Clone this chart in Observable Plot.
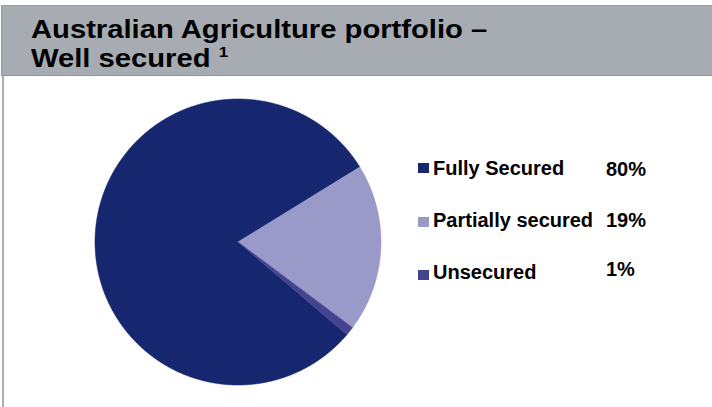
<!DOCTYPE html>
<html>
<head>
<meta charset="utf-8">
<script src="https://cdn.jsdelivr.net/npm/d3@7"></script>
<script src="https://cdn.jsdelivr.net/npm/@observablehq/plot@0.6"></script>
<style>
  html, body { margin: 0; padding: 0; background: #fff; }
  body { width: 712px; height: 407px; overflow: hidden; font-family: "Liberation Sans", Arial, sans-serif; }
  #wrap { position: relative; width: 712px; height: 407px; }
  #head { position: absolute; left: 1px; top: 5px; width: 711px; height: 71px; background: #a6acb1;
          border-top: 1px solid #959ba1; border-bottom: 1px solid #8f959b; border-left: 1px solid #8f959b; box-sizing: border-box; }
  .tl { position: absolute; left: 31px; font-size: 29.2px; font-weight: bold; color: #000; line-height: 28px;
        white-space: nowrap; transform: scaleY(0.87); transform-origin: 0 0; }
  .tl sup { font-size: 17px; vertical-align: 0; position: relative; top: -11px; }
  #vline { position: absolute; left: 2px; top: 76px; width: 2px; height: 331px; background: #a9afb4; }
  #chart { position: absolute; left: 0; top: 76px; }
  .lg { position: absolute; font-size: 20px; font-weight: bold; color: #000; line-height: 20px; white-space: nowrap; }
  .sw { position: absolute; width: 11px; height: 10px; }
</style>
</head>
<body>
<div id="wrap">
  <div id="head"></div>
  <div class="tl" id="t1" style="top:17px">Australian Agriculture portfolio –</div>
  <div class="tl" id="t2" style="top:46px">Well secured <sup>1</sup></div>
  <div id="chart"></div>
  <div id="vline"></div>
  <div id="legend"></div>
</div>
<script>
// Data
const categories = ["Fully Secured", "Partially secured", "Unsecured"];
const values = [80, 19, 1];
const valueLabels = ["80%", "19%", "1%"];
const colors = ["#162770", "#9a9ac8", "#434390"];

// Pie layout (first slice starts at ~130° clockwise from 12 o'clock)
const start = 130.4 * Math.PI / 180;
const arcs = d3.pie().sort(null).startAngle(start).endAngle(start + 2 * Math.PI)(values);
const points = [];
arcs.forEach((a, i) => {
  const name = categories[i];
  points.push({x: 0, y: 0, name});
  const n = Math.max(2, Math.ceil((a.endAngle - a.startAngle) / (0.25 * Math.PI / 180)));
  for (let k = 0; k <= n; k++) {
    const t = a.startAngle + (a.endAngle - a.startAngle) * k / n;
    points.push({x: Math.sin(t), y: Math.cos(t), name});
  }
  points.push({x: 0, y: 0, name});
});

const cx = 237.5, cy = 165.5, r = 143;
const chart = Plot.plot({
  width: 712,
  height: 331,
  margin: 0,
  x: {domain: [-1, 1], range: [cx - r, cx + r], axis: null},
  y: {domain: [-1, 1], range: [cy + r, cy - r], axis: null},
  color: {domain: categories, range: colors},
  marks: [
    Plot.line(points, {x: "x", y: "y", z: "name", fill: "name", stroke: "name", strokeWidth: 0.6, curve: "linear"})
  ]
});
document.getElementById("chart").appendChild(chart);

// Legend (HTML, beside the pie)
const legendRows = [
  {sq: 163, txt: 158, pct: 159},
  {sq: 217, txt: 210, pct: 210},
  {sq: 270, txt: 262, pct: 259}
];
const leg = document.getElementById("legend");
categories.forEach((c, i) => {
  const row = legendRows[i];
  const s = document.createElement("div");
  s.className = "sw";
  s.style.left = "418px"; s.style.top = row.sq + "px"; s.style.background = colors[i];
  leg.appendChild(s);
  const t = document.createElement("div");
  t.className = "lg";
  t.style.left = "433px"; t.style.top = row.txt + "px"; t.textContent = c;
  leg.appendChild(t);
  const p = document.createElement("div");
  p.className = "lg";
  p.style.left = "606px"; p.style.top = row.pct + "px"; p.textContent = valueLabels[i];
  leg.appendChild(p);
});
</script>
</body>
</html>
